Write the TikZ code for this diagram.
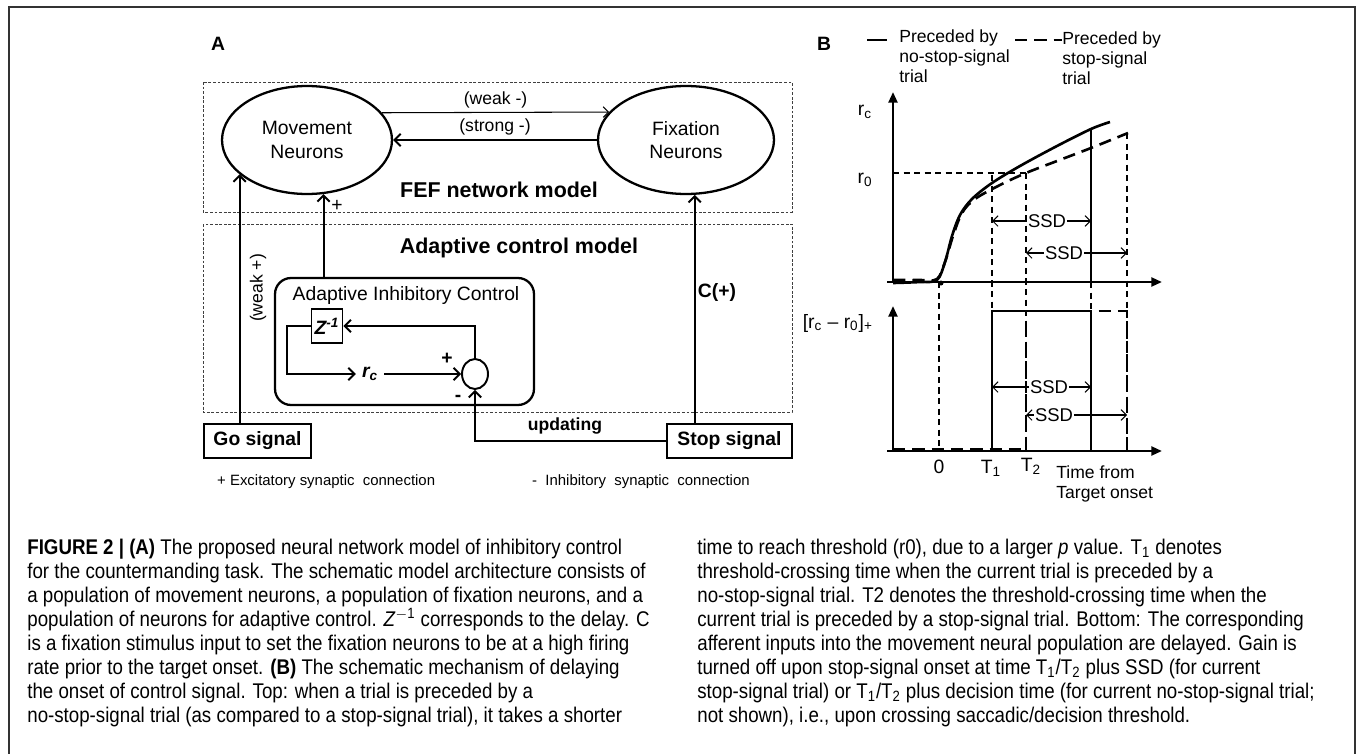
\documentclass[tikz,border=0pt]{standalone}
\usepackage{fontspec}
\setmainfont{Liberation Sans}
\newfontfamily\capfont{Liberation Sans}[FakeStretch=0.88]
\usetikzlibrary{arrows.meta,shapes.geometric}

\tikzset{
  modelbox/.style={line width=0.5pt, black!75, dash pattern=on 1.6pt off 1pt},
  pop/.style={ellipse, draw, line width=1.3pt, minimum height=2.16cm, align=center, inner sep=0pt, font=\fontsize{11}{13.5}\selectfont},
  arr/.style={line width=1.1pt, -{Straight Barb[length=3.5pt,width=7pt]}},
  thinarr/.style={line width=0.6pt, -{Straight Barb[length=3pt,width=6pt]}},
  sig/.style={draw, line width=0.9pt, minimum height=0.68cm, inner sep=0pt, font=\bfseries\fontsize{11}{13}\selectfont},
  lbl/.style={font=\fontsize{10}{12}\selectfont, inner sep=1pt},
  heading/.style={font=\bfseries\fontsize{12.2}{14}\selectfont},
  axis/.style={line width=1.4pt, -{Triangle[length=6pt,width=5pt]}},
  guide/.style={line width=0.6pt, dash pattern=on 3.5pt off 2.5pt},
  solidc/.style={line width=1.5pt},
  dashc/.style={line width=1.5pt, dash pattern=on 7pt off 4pt},
  ssd/.style={font=\fontsize{10.5}{12}\selectfont, inner sep=0.5pt},
  ssdarr/.style={line width=0.6pt, -{Straight Barb[length=3pt,width=6pt]}},
  caption/.style={anchor=north west, align=left, inner sep=0pt, font=\capfont\fontsize{12.1}{13.6}\selectfont}
}

\begin{document}
\begin{tikzpicture}[x=0.02cm,y=-0.02cm]
\useasboundingbox (0,0) rectangle (1357,754);
\draw[line width=1.1pt, black!80] (9,754) -- (9,7) -- (1355,7) -- (1355,754);

\node[heading, font=\bfseries\fontsize{11}{13}\selectfont] (labA) at (218,44) {A};
\node[heading, font=\bfseries\fontsize{11}{13}\selectfont] (labB) at (824,44) {B};

\draw[modelbox] (203,82) rectangle (792,212);
\draw[modelbox] (203,224) rectangle (792,412);

\node[pop, minimum width=3.4cm] (mov) at (307,140) {Movement\\Neurons};
\node[pop, minimum width=3.52cm] (fix) at (686,140) {Fixation\\Neurons};
\draw[thinarr] (mov.20) -- (fix.160) node[midway, above=1pt, lbl] (weakm) {(weak -)};
\draw[arr] (fix.west) -- (mov.east) node[midway, above=1pt, lbl] (strongm) {(strong -)};
\node[heading] (fef) at (499,190) {FEF network model};
\node[heading] (acm) at (519,248) {Adaptive control model};

\node[draw, rounded corners=0.32cm, line width=1.3pt, minimum width=5.18cm, minimum height=2.54cm] (aic) at (404.5,341.5) {};
\node[font=\fontsize{11}{13}\selectfont] (aictitle) at (406,295) {Adaptive Inhibitory Control};
\node[draw, line width=1.1pt, minimum width=0.62cm, minimum height=0.68cm, inner sep=0pt, font=\bfseries\itshape\fontsize{11}{13}\selectfont] (z) at (327,326) {Z\textsuperscript{-1}};
\node[font=\bfseries\itshape\fontsize{11}{13}\selectfont] (rc) at (370,374) {r\textsubscript{c}};
\node[ellipse, draw, line width=1.1pt, minimum width=0.52cm, minimum height=0.6cm, inner sep=0pt] (sum) at (475,374) {};
\node[font=\bfseries\fontsize{11}{13}\selectfont] (splus) at (447,359) {+};
\node[font=\bfseries\fontsize{11}{13}\selectfont] (sminus) at (458,398) {-};
\draw[arr] (sum.north) |- (z.east);
\draw[arr] (z.west) -- ++(-24,0) |- (rc.west);
\draw[arr] (rc.east) -- (sum.west);

\node[sig, minimum width=2.14cm] (go) at (257.5,441) {Go signal};
\node[sig, minimum width=2.5cm] (stop) at (729.5,441) {Stop signal};
\draw[arr] (go.north -| mov.207) -- (mov.207);
\node[lbl, rotate=90] (weakp) at (258,288) {(weak +)};
\draw[arr] (aic.north -| mov.287) -- (mov.287);
\node[font=\fontsize{11}{13}\selectfont] (mplus) at (337,206) {+};
\draw[arr] (stop.north -| fix.279) -- (fix.279);
\node[font=\bfseries\fontsize{11}{13}\selectfont] (cplus) at (717,292) {C(+)};
\draw[arr] (stop.west) -| (sum.south);
\node[font=\bfseries\fontsize{10}{12}\selectfont] (upd) at (565,426) {updating};

\node[anchor=west, font=\fontsize{8.5}{10}\selectfont] (exc) at (211,482) {+ Excitatory synaptic\ \ connection};
\node[anchor=west, font=\fontsize{8.5}{10}\selectfont] (inh) at (526,482) {-\ \ Inhibitory\ \ synaptic\ \ connection};

\draw[solidc] (867,40) -- (887,40);
\node[anchor=north west, align=left, lbl, inner sep=0pt, font=\fontsize{10}{11.5}\selectfont] (leg1) at (899,29) {Preceded by\\no-stop-signal\\trial};
\draw[dashc] (1015,40) -- (1062,40);
\node[anchor=north west, align=left, lbl, inner sep=0pt, font=\fontsize{10}{11.5}\selectfont] (leg2) at (1062,31) {Preceded by\\stop-signal\\trial};

\coordinate (zero) at (939,451);
\coordinate (t1) at (992,451);
\coordinate (t2) at (1026,451);
\coordinate (e1) at (1091,451);
\coordinate (e2) at (1127,451);

\draw[guide] (893,173) -- (1026,173);
\draw[guide] (939,282) -- (zero);
\draw[guide] (992,175) -- (t1);
\draw[guide] (1026,173) -- (t2);
\draw[guide] (1091,282) -- (1091,311);
\draw[guide] (1127,133) -- (e2);

\draw[axis] (887,282) -- (1162,282);
\draw[axis] (893,282) -- (893,92);
\draw[axis] (887,451) -- (1162,451);
\draw[axis] (893,451) -- (893,306);

\draw[solidc] plot[smooth, tension=0.55] coordinates {(893,283) (920,282) (937,280) (945,262) (952,236) (960,215) (972,199) (992,183) (1020,166) (1057,146) (1091,129) (1110,122)};
\draw[dashc] plot[smooth, tension=0.55] coordinates {(893,280) (920,280) (937,279) (945,262) (953,236) (962,213) (975,199) (1000,185) (1026,173) (1057,161) (1091,148) (1128,133)};
\fill (941,283) circle (2.5);
\draw[solidc] (1091,128) -- (1091,282);

\draw[solidc] (t1) -- (992,311) -- (1091,311) -- (e1);
\draw[dashc] (893,449) -- (1026,449);
\draw[dashc] (t2) -- (1026,311) -- (1127,311) -- (e2);

\node[ssd] (ssdA) at (1047,221) {SSD};
\draw[ssdarr] (ssdA.west) -- (ssdA.west -| t1);
\draw[ssdarr] (ssdA.east) -- (ssdA.east -| e1);
\node[ssd] (ssdB) at (1064,253) {SSD};
\draw[ssdarr] (ssdB.west) -- (ssdB.west -| t2);
\draw[ssdarr] (ssdB.east) -- (ssdB.east -| e2);
\node[ssd] (ssdC) at (1049,387) {SSD};
\draw[ssdarr] (ssdC.west) -- (ssdC.west -| t1);
\draw[ssdarr] (ssdC.east) -- (ssdC.east -| e1);
\node[ssd] (ssdD) at (1054,415) {SSD};
\draw[ssdarr] (ssdD.west) -- (ssdD.west -| t2);
\draw[ssdarr] (ssdD.east) -- (ssdD.east -| e2);

\node[font=\fontsize{11}{13}\selectfont] (rclab) at (865,112) {r\textsubscript{c}};
\node[font=\fontsize{11}{13}\selectfont] (r0lab) at (865,180) {r\textsubscript{0}};
\node[anchor=east, font=\fontsize{11}{13}\selectfont] (gainlab) at (879,323) {[r\textsubscript{c} -- r\textsubscript{0}]\textsubscript{+}};
\node[font=\fontsize{11}{13}\selectfont] (zerolab) at (939,467) {0};
\node[font=\fontsize{11}{13}\selectfont] (t1lab) at (991,468) {T\textsubscript{1}};
\node[font=\fontsize{11}{13}\selectfont] (t2lab) at (1031,466) {T\textsubscript{2}};
\node[anchor=north west, align=left, inner sep=0pt, font=\fontsize{10}{11.5}\selectfont] (timelab) at (1056,465) {Time from\\Target onset};

\node[caption] (capL) at (27,539) {\textbf{FIGURE 2 | (A)} The proposed neural network model of inhibitory control\\
for the countermanding task. The schematic model architecture consists of\\
a population of movement neurons, a population of fixation neurons, and a\\
population of neurons for adaptive control. \textit{Z}\textsuperscript{$-$1} corresponds to the delay. C\\
is a fixation stimulus input to set the fixation neurons to be at a high firing\\
rate prior to the target onset. \textbf{(B)} The schematic mechanism of delaying\\
the onset of control signal. Top: when a trial is preceded by a\\
no-stop-signal trial (as compared to a stop-signal trial), it takes a shorter};
\node[caption] (capR) at (697,539) {time to reach threshold (r0), due to a larger \textit{p} value. T\textsubscript{1} denotes\\
threshold-crossing time when the current trial is preceded by a\\
no-stop-signal trial. T2 denotes the threshold-crossing time when the\\
current trial is preceded by a stop-signal trial. Bottom: The corresponding\\
afferent inputs into the movement neural population are delayed. Gain is\\
turned off upon stop-signal onset at time T\textsubscript{1}/T\textsubscript{2} plus SSD (for current\\
stop-signal trial) or T\textsubscript{1}/T\textsubscript{2} plus decision time (for current no-stop-signal trial;\\
not shown), i.e., upon crossing saccadic/decision threshold.};
\end{tikzpicture}
\end{document}
